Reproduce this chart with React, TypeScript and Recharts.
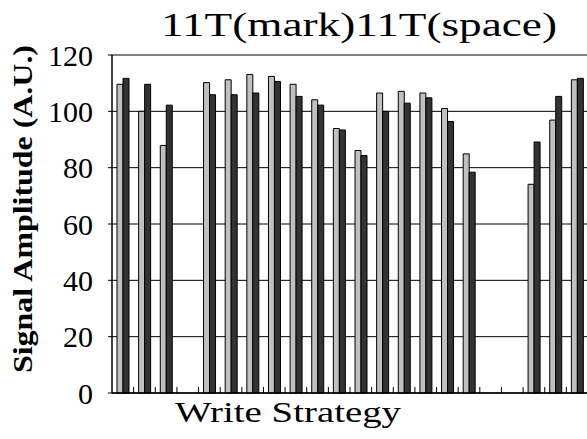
import React from 'react'
import {
  BarChart,
  Bar,
  XAxis,
  YAxis,
  CartesianGrid,
  ReferenceLine,
} from 'recharts'

// write strategies along the x axis (no labels printed in the original)
const strategies = [
  'S1', 'S2', 'S3', 'S4', 'S5', 'S6', 'S7', 'S8', 'S9', 'S10', 'S11',
  'S12', 'S13', 'S14', 'S15', 'S16', 'S17', 'S18', 'S19', 'S20', 'S21', 'S22',
]

const markValues: (number | null)[] = [
  109.6, 100.0, 87.9, null, 110.2, 111.2, 113.1, 112.4, 109.6, 104.1, 93.9,
  86.1, 106.5, 107.1, 106.5, 101.0, 84.9, null, null, 74.1, 96.9, 111.2,
]

const spaceValues: (number | null)[] = [
  111.7, 109.6, 102.2, null, 105.9, 105.9, 106.5, 110.6, 105.3, 102.2, 93.4,
  84.3, 100.0, 102.9, 104.8, 96.4, 78.4, null, null, 89.1, 105.3, 111.7,
]

const yTicks = [0, 20, 40, 60, 80, 100, 120]

const data = strategies.map((name, i) => ({
  name,
  mark: markValues[i],
  space: spaceValues[i],
}))

const W = 600
const H = 439
const MARGIN = { top: 55, right: 12, bottom: 0, left: 0 }
const Y_AXIS_W = 112
const BAND = (W - MARGIN.right - Y_AXIS_W) / strategies.length
const SERIF = 'Liberation Serif'

// small inward tick at the left boundary of every category
function BoundaryTick(props: any) {
  const { x, y, index } = props
  if (index === 0) return null
  const bx = x - BAND / 2
  return <line x1={bx} y1={y} x2={bx} y2={y - 6} stroke="#000" strokeWidth={1} />
}

export default function App() {
  return (
    <div
      style={{
        position: 'fixed',
        left: 0,
        top: 0,
        width: 587,
        height: 439,
        overflow: 'hidden',
        background: '#fff',
        fontFamily: SERIF,
      }}
    >
      <BarChart
        width={W}
        height={H}
        data={data}
        margin={MARGIN}
        barGap={0}
        barSize={6}
      >
        <CartesianGrid vertical={false} stroke="#000" strokeWidth={1} />
        <XAxis
          dataKey="name"
          height={46}
          tickLine={false}
          tickSize={0}
          tickMargin={0}
          interval={0}
          tick={<BoundaryTick />}
          axisLine={{ stroke: '#000', strokeWidth: 1.5 }}
        />
        <YAxis
          width={Y_AXIS_W}
          domain={[0, 120]}
          ticks={yTicks}
          interval={0}
          tickSize={4}
          tickMargin={15}
          tickLine={{ stroke: '#000' }}
          axisLine={{ stroke: '#000', strokeWidth: 1.5 }}
          tick={{ fontFamily: SERIF, fontSize: 30, fill: '#000' }}
        />
        <ReferenceLine y={120} stroke="#808080" strokeWidth={2} />
        <Bar dataKey="mark" fill="#c0c0c0" stroke="#000" strokeWidth={1} isAnimationActive={false} />
        <Bar dataKey="space" fill="#333333" stroke="#000" strokeWidth={1} isAnimationActive={false} />
      </BarChart>

      <svg
        width={587}
        height={439}
        style={{ position: 'absolute', left: 0, top: 0, pointerEvents: 'none' }}
      >
        <text
          x={161}
          y={36}
          fontFamily={SERIF}
          fontSize={34}
          textLength={396}
          lengthAdjust="spacingAndGlyphs"
          fill="#000"
        >
          11T(mark)11T(space)
        </text>
        <text
          x={175}
          y={422}
          fontFamily={SERIF}
          fontSize={29}
          textLength={226}
          lengthAdjust="spacingAndGlyphs"
          fill="#000"
        >
          Write Strategy
        </text>
        <text
          transform="translate(32, 209) rotate(-90)"
          x={0}
          y={0}
          textAnchor="middle"
          fontFamily={SERIF}
          fontWeight="bold"
          fontSize={28}
          textLength={328}
          lengthAdjust="spacingAndGlyphs"
          fill="#000"
        >
          Signal Amplitude (A.U.)
        </text>
      </svg>
    </div>
  )
}
